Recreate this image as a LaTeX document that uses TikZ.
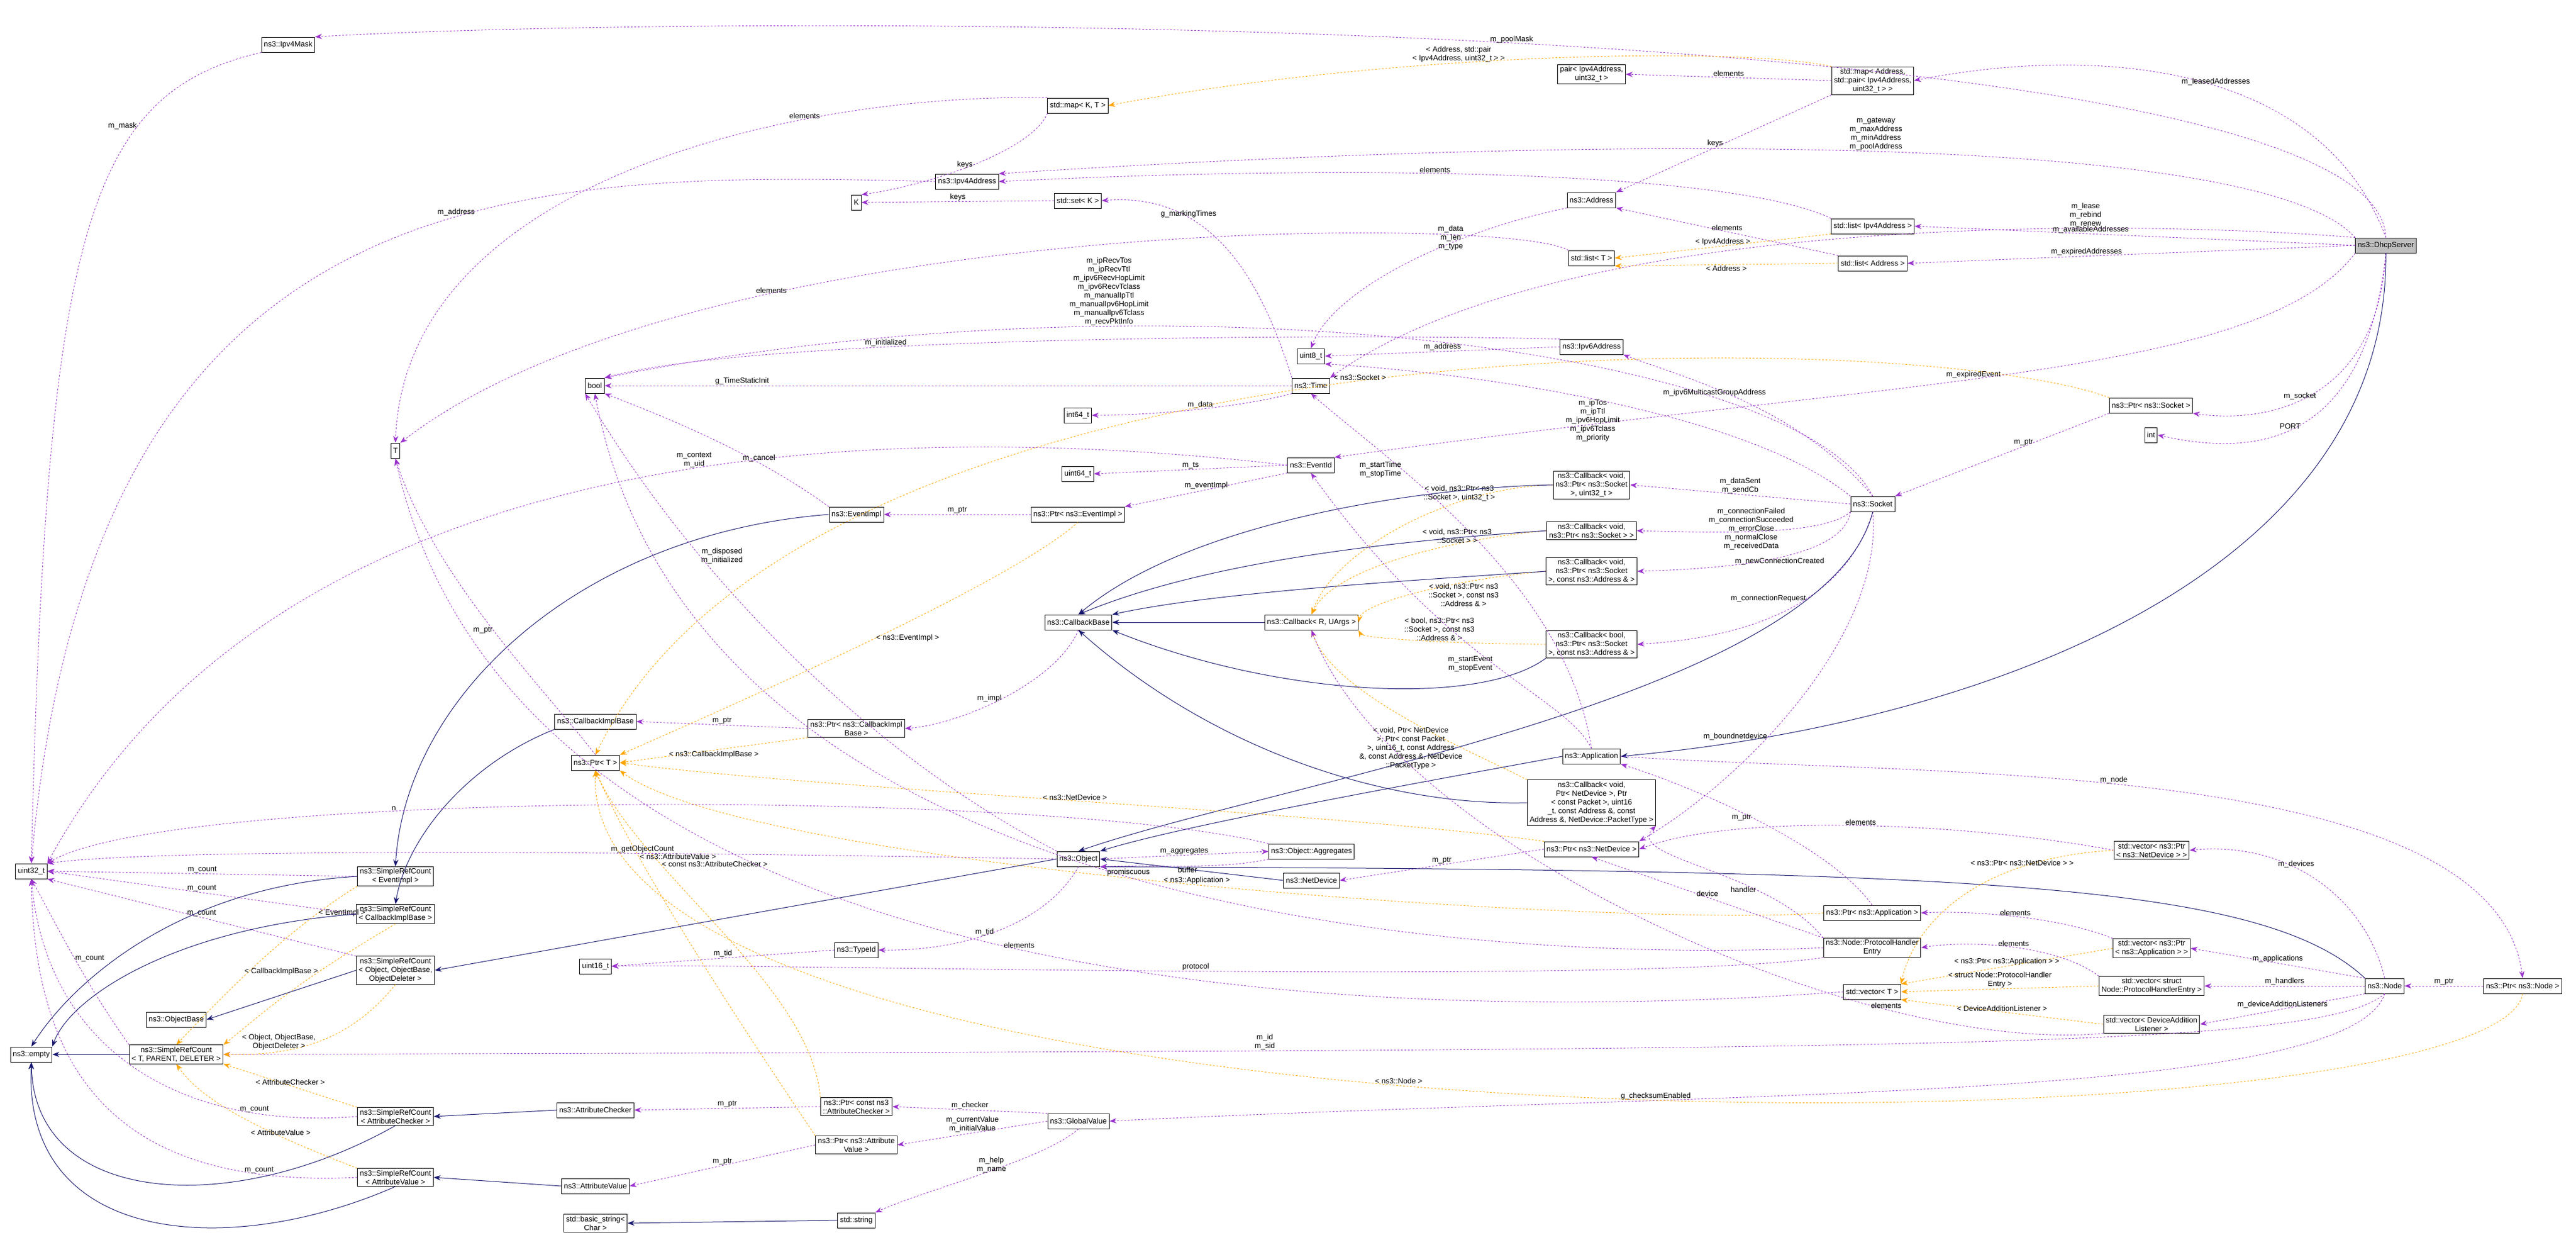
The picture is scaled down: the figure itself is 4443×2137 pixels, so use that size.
\documentclass[tikz,border=0pt]{standalone}
\usepackage{fontspec}
\setmainfont{Liberation Sans}
\usetikzlibrary{arrows.meta, positioning}
\definecolor{usecol}{HTML}{9A32CD}
\definecolor{tmplcol}{HTML}{FFA500}
\definecolor{inhcol}{HTML}{191970}

\begin{document}
\begin{tikzpicture}[
            x=1pt, y=-1pt,
            font=\fontsize{13}{15}\selectfont,
            cls/.style={rectangle, draw, fill=white, line width=1pt, inner xsep=4pt, inner ysep=3pt, minimum height=26pt, align=center},
            use/.style={draw=usecol, dashed, line width=0.9pt, -{Stealth[length=12pt, width=9pt]}},
            tmpl/.style={draw=tmplcol, dashed, line width=0.9pt, -{Stealth[length=12pt, width=9pt]}},
            inh/.style={draw=inhcol, line width=1pt, -{Stealth[length=12pt, width=9pt]}},
            lbl/.style={align=center, inner sep=1pt, font=\fontsize{13}{15}\selectfont}
        ]
        \useasboundingbox (0,0) rectangle (4443,2137);

        % main class and its direct members
        \node[cls, fill=black!25] (dhcp) at (4115,423) {ns3::DhcpServer};
        \node[cls] (ipmask) at (497,77) {ns3::Ipv4Mask};
        \node[cls] (maplease) at (3230,139) {std::map< Address,\\ std::pair< Ipv4Address,\\ uint32\_t > >};
        \node[cls] (pair) at (2745,128) {pair< Ipv4Address,\\ uint32\_t >};
        \node[cls] (mapkt) at (1859,182) {std::map< K, T >};
        \node[cls] (ipv4) at (1668,313) {ns3::Ipv4Address};
        \node[cls] (kk) at (1477,349) {K};
        \node[cls] (setk) at (1859,346) {std::set< K >};
        \node[cls] (addr) at (2745,345) {ns3::Address};
        \node[cls] (listip4) at (3230,390) {std::list< Ipv4Address >};
        \node[cls] (listaddr) at (3230,454) {std::list< Address >};
        \node[cls] (listt) at (2745,445) {std::list< T >};
        \node[cls] (u8) at (2261,614) {uint8\_t};
        \node[cls] (ipv6) at (2745,598) {ns3::Ipv6Address};
        \node[cls] (time) at (2261,665) {ns3::Time};
        \node[cls] (i64) at (1859,716) {int64\_t};
        \node[cls] (boolt) at (1026,665) {bool};
        \node[cls] (tt) at (682,777) {T};
        \node[cls] (psock) at (3710,699) {ns3::Ptr< ns3::Socket >};
        \node[cls] (intt) at (3710,750) {int};
        \node[cls] (evid) at (2261,802) {ns3::EventId};
        \node[cls] (u64) at (1859,817) {uint64\_t};
        \node[cls] (sock) at (3230,869) {ns3::Socket};
        \node[cls] (evimpl) at (1477,887) {ns3::EventImpl};
        \node[cls] (pevimpl) at (1859,887) {ns3::Ptr< ns3::EventImpl >};

        % callbacks
        \node[cls] (cbsu32) at (2745,836) {ns3::Callback< void,\\ ns3::Ptr< ns3::Socket\\ >, uint32\_t >};
        \node[cls] (cbs) at (2745,915) {ns3::Callback< void,\\ ns3::Ptr< ns3::Socket > >};
        \node[cls] (cbsaddr) at (2745,985) {ns3::Callback< void,\\ ns3::Ptr< ns3::Socket\\ >, const ns3::Address \& >};
        \node[cls] (cbbool) at (2745,1111) {ns3::Callback< bool,\\ ns3::Ptr< ns3::Socket\\ >, const ns3::Address \& >};
        \node[cls] (cbbase) at (1860,1073) {ns3::CallbackBase};
        \node[cls] (cbr) at (2262,1073) {ns3::Callback< R, UArgs >};
        \node[cls] (pcbimpl) at (1477,1256) {ns3::Ptr< ns3::CallbackImpl\\ Base >};
        \node[cls] (cbimpl) at (1027,1244) {ns3::CallbackImplBase};
        \node[cls] (ptrt) at (1027,1315) {ns3::Ptr< T >};
        \node[cls] (app) at (2745,1304) {ns3::Application};
        \node[cls] (cbnd) at (2745,1384) {ns3::Callback< void,\\ Ptr< NetDevice >, Ptr\\ < const Packet >, uint16\\ \_t, const Address \&, const\\ Address \&, NetDevice::PacketType >};
        \node[cls] (pnd) at (2745,1464) {ns3::Ptr< ns3::NetDevice >};

        % object model
        \node[cls] (object) at (1860,1481) {ns3::Object};
        \node[cls] (aggr) at (2262,1468) {ns3::Object::Aggregates};
        \node[cls] (netdev) at (2262,1518) {ns3::NetDevice};
        \node[cls] (typeid) at (1477,1638) {ns3::TypeId};
        \node[cls] (u16) at (1027,1666) {uint16\_t};
        \node[cls] (u32) at (54,1502) {uint32\_t};
        \node[cls] (srcev) at (682,1511) {ns3::SimpleRefCount\\ < EventImpl >};
        \node[cls] (srccb) at (682,1576) {ns3::SimpleRefCount\\ < CallbackImplBase >};
        \node[cls] (srcobj) at (682,1673) {ns3::SimpleRefCount\\ < Object, ObjectBase,\\ ObjectDeleter >};
        \node[cls] (objbase) at (304,1758) {ns3::ObjectBase};
        \node[cls] (empty) at (54,1818) {ns3::empty};
        \node[cls] (srct) at (304,1818) {ns3::SimpleRefCount\\ < T, PARENT, DELETER >};
        \node[cls] (srcchk) at (682,1925) {ns3::SimpleRefCount\\ < AttributeChecker >};
        \node[cls] (attrchk) at (1027,1914) {ns3::AttributeChecker};
        \node[cls] (srcval) at (682,2030) {ns3::SimpleRefCount\\ < AttributeValue >};
        \node[cls] (attrval) at (1027,2045) {ns3::AttributeValue};
        \node[cls] (bstr) at (1027,2109) {std::basic\_string<\\ Char >};
        \node[cls] (pchk) at (1477,1908) {ns3::Ptr< const ns3\\ ::AttributeChecker >};
        \node[cls] (pattr) at (1477,1974) {ns3::Ptr< ns3::Attribute\\ Value >};
        \node[cls] (gval) at (1860,1933) {ns3::GlobalValue};
        \node[cls] (str) at (1477,2104) {std::string};

        % node side
        \node[cls] (vnd) at (3711,1466) {std::vector< ns3::Ptr\\ < ns3::NetDevice > >};
        \node[cls] (papp) at (3229,1574) {ns3::Ptr< ns3::Application >};
        \node[cls] (phe) at (3229,1634) {ns3::Node::ProtocolHandler\\ Entry};
        \node[cls] (vapp) at (3711,1635) {std::vector< ns3::Ptr\\ < ns3::Application > >};
        \node[cls] (vect) at (3229,1710) {std::vector< T >};
        \node[cls] (vphe) at (3711,1700) {std::vector< struct\\ Node::ProtocolHandlerEntry >};
        \node[cls] (vdal) at (3711,1766) {std::vector< DeviceAddition\\ Listener >};
        \node[cls] (node) at (4113,1700) {ns3::Node};
        \node[cls] (pnode) at (4351,1700) {ns3::Ptr< ns3::Node >};

        % DhcpServer members
        \draw[use] (dhcp.north) .. controls (4100,20) and (1300,20) .. node[lbl, pos=0.5, above=-2pt] {m\_poolMask} (ipmask.north east);
        \draw[use] (dhcp.north) .. controls (4000,100) and (3600,80) .. node[lbl, pos=0.45, above] {m\_leasedAddresses} (maplease.east);
        \draw[use] (dhcp.north west) .. controls (3900,230) and (2800,230) .. node[lbl, pos=0.5, above] {m\_gateway\\m\_maxAddress\\m\_minAddress\\m\_poolAddress} (ipv4.north east);
        \draw[use] (dhcp.north west) .. controls (3700,380) and (2700,360) .. node[lbl, pos=0.3, above] {m\_lease\\m\_rebind\\m\_renew} (time.north east);
        \draw[use] (dhcp.west) -- node[lbl, above, pos=0.6] {m\_availableAddresses} (listip4.east);
        \draw[use] (dhcp.west) -- node[lbl, above, pos=0.6] {m\_expiredAddresses} (listaddr.east);
        \draw[use] (dhcp.south west) .. controls (3900,650) and (3300,650) .. node[lbl, pos=0.55, above] {m\_expiredEvent} (evid.north east);
        \draw[use] (dhcp.south) .. controls (4100,700) and (3900,730) .. node[lbl, pos=0.55, above] {m\_socket} (psock.south east);
        \draw[use] (dhcp.south) .. controls (4080,760) and (3900,790) .. node[lbl, pos=0.55, above] {PORT} (intt.east);
        \draw[inh] (dhcp.south) .. controls (4120,1000) and (3400,1250) .. (app.east);

        % address containers
        \draw[use] (ipmask.south west) .. controls (150,160) and (80,400) .. node[lbl, pos=0.3, left] {m\_mask} (u32.north);
        \draw[use] (ipv4.west) .. controls (900,295) and (160,290) .. node[lbl, pos=0.4, above] {m\_address} (u32.north);
        \draw[use] (mapkt.north west) .. controls (1400,160) and (700,300) .. node[lbl, pos=0.3, above] {elements} (tt.north);
        \draw[use] (mapkt.south west) .. controls (1780,260) and (1600,320) .. node[lbl, pos=0.5, left] {keys} (kk.north east);
        \draw[use] (setk.west) -- node[lbl, above] {keys} (kk.east);
        \draw[tmpl] (maplease.north west) .. controls (3000,80) and (2400,90) .. node[lbl, pos=0.6, above] {< Address, std::pair\\< Ipv4Address, uint32\_t > >} (mapkt.east);
        \draw[use] (maplease.west) -- node[lbl, above] {elements} (pair.east);
        \draw[use] (maplease.south west) -- node[lbl, pos=0.5, left] {keys} (addr.north east);
        \draw[use] (listip4.north west) .. controls (3000,300) and (2400,280) .. node[lbl, pos=0.6, above] {elements} (ipv4.east);
        \draw[use] (listaddr.north west) -- node[lbl, pos=0.5, above] {elements} (addr.south east);
        \draw[tmpl] (listip4.south west) -- node[lbl, pos=0.5, above] {< Ipv4Address >} (listt.east);
        \draw[tmpl] (listaddr.west) -- node[lbl, pos=0.5, below] {< Address >} (listt.south east);
        \draw[use] (listt.north west) .. controls (2600,370) and (1200,370) .. node[lbl, pos=0.7, above] {elements} (tt.north east);
        \draw[use] (addr.south west) .. controls (2500,400) and (2300,500) .. node[lbl, pos=0.3, left] {m\_data\\m\_len\\m\_type} (u8.north);
        \draw[use] (ipv6.west) -- node[lbl, above] {m\_address} (u8.east);
        \draw[use] (ipv6.north west) .. controls (2300,575) and (1300,580) .. node[lbl, pos=0.65, above] {m\_initialized} (boolt.north east);

        % time and events
        \draw[use] (time.west) -- node[lbl, above, pos=0.8] {g\_TimeStaticInit} (boolt.east);
        \draw[use] (time.south west) .. controls (2150,700) and (2000,716) .. node[lbl, above, pos=0.5] {m\_data} (i64.east);
        \draw[use] (time.north west) .. controls (2180,500) and (2100,330) .. node[lbl, above, pos=0.7] {g\_markingTimes} (setk.east);
        \draw[use] (evid.west) .. controls (1600,730) and (500,720) .. node[lbl, above, pos=0.45] {m\_context\\m\_uid} (u32.north east);
        \draw[use] (evid.west) -- node[lbl, above] {m\_ts} (u64.east);
        \draw[use] (evid.south west) -- node[lbl, above] {m\_eventImpl} (pevimpl.north east);
        \draw[use] (pevimpl.west) -- node[lbl, above] {m\_ptr} (evimpl.east);
        \draw[tmpl] (pevimpl.south) .. controls (1750,1000) and (1300,1200) .. node[lbl, pos=0.5, right] {< ns3::EventImpl >} (ptrt.north east);
        \draw[use] (evimpl.north west) .. controls (1300,780) and (1150,720) .. node[lbl, above, pos=0.3] {m\_cancel} (boolt.south east);
        \draw[inh] (evimpl.west) .. controls (1000,920) and (700,1200) .. (srcev.north);

        % socket
        \draw[use] (psock.south west) -- node[lbl, above, pos=0.4] {m\_ptr} (sock.north east);
        \draw[tmpl] (psock.north west) .. controls (3300,560) and (1400,530) .. node[lbl, above, pos=0.5] {< ns3::Socket >} (ptrt.north);
        \draw[use] (sock.north) .. controls (3100,600) and (2000,460) .. node[lbl, pos=0.7, above] {m\_ipRecvTos\\m\_ipRecvTtl\\m\_ipv6RecvHopLimit\\m\_ipv6RecvTclass\\m\_manualIpTtl\\m\_manualIpv6HopLimit\\m\_manualIpv6Tclass\\m\_recvPktInfo} (boolt.north east);
        \draw[use] (sock.north) .. controls (3100,700) and (2900,650) .. node[lbl, pos=0.6, below] {m\_ipv6MulticastGroupAddress} (ipv6.south east);
        \draw[use] (sock.north west) .. controls (3000,700) and (2500,640) .. node[lbl, pos=0.5, below] {m\_ipTos\\m\_ipTtl\\m\_ipv6HopLimit\\m\_ipv6Tclass\\m\_priority} (u8.south east);
        \draw[use] (sock.west) -- node[lbl, above] {m\_dataSent\\m\_sendCb} (cbsu32.east);
        \draw[use] (sock.south west) .. controls (3150,920) and (3000,920) .. node[lbl, pos=0.4, left] {m\_connectionFailed\\m\_connectionSucceeded\\m\_errorClose\\m\_normalClose\\m\_receivedData} (cbs.east);
        \draw[use] (sock.south west) .. controls (3180,960) and (3000,980) .. node[lbl, pos=0.5, below] {m\_newConnectionCreated} (cbsaddr.east);
        \draw[use] (sock.south) .. controls (3180,1050) and (3000,1100) .. node[lbl, pos=0.4, left] {m\_connectionRequest} (cbbool.east);
        \draw[use] (sock.south) .. controls (3250,1100) and (3000,1350) .. node[lbl, pos=0.6, left] {m\_boundnetdevice} (pnd.north east);
        \draw[inh] (sock.south) .. controls (3150,1200) and (2200,1350) .. (object.north);

        % callbacks
        \draw[tmpl] (cbsu32.west) .. controls (2500,840) and (2300,950) .. node[lbl, pos=0.3, above] {< void, ns3::Ptr< ns3\\::Socket >, uint32\_t >} (cbr.north);
        \draw[tmpl] (cbs.west) .. controls (2500,930) and (2300,980) .. node[lbl, pos=0.3, above] {< void, ns3::Ptr< ns3\\::Socket > >} (cbr.north);
        \draw[tmpl] (cbsaddr.west) .. controls (2500,1000) and (2350,1040) .. node[lbl, pos=0.3, below] {< void, ns3::Ptr< ns3\\::Socket >, const ns3\\::Address \& >} (cbr.east);
        \draw[tmpl] (cbbool.west) .. controls (2500,1110) and (2350,1100) .. node[lbl, pos=0.4, above] {< bool, ns3::Ptr< ns3\\::Socket >, const ns3\\::Address \& >} (cbr.south east);
        \draw[tmpl] (cbnd.north west) .. controls (2550,1300) and (2300,1200) .. node[lbl, pos=0.3, left] {< void, Ptr< NetDevice\\ >, Ptr< const Packet\\ >, uint16\_t, const Address\\ \&, const Address \&, NetDevice\\ ::PacketType >} (cbr.south);
        \draw[inh] (cbr.west) -- (cbbase.east);
        \draw[inh] (cbsu32.west) .. controls (2450,840) and (2050,900) .. (cbbase.north);
        \draw[inh] (cbs.west) .. controls (2450,930) and (2100,960) .. (cbbase.north);
        \draw[inh] (cbsaddr.west) .. controls (2450,1000) and (2100,1020) .. (cbbase.north east);
        \draw[inh] (cbbool.south west) .. controls (2550,1220) and (2200,1200) .. (cbbase.south east);
        \draw[inh] (cbnd.west) .. controls (2400,1390) and (2100,1300) .. (cbbase.south);
        \draw[use] (cbbase.south) .. controls (1820,1180) and (1650,1250) .. node[lbl, pos=0.5, left] {m\_impl} (pcbimpl.east);
        \draw[use] (pcbimpl.west) -- node[lbl, above] {m\_ptr} (cbimpl.east);
        \draw[tmpl] (pcbimpl.south west) -- node[lbl, below] {< ns3::CallbackImplBase >} (ptrt.east);
        \draw[inh] (cbimpl.south west) .. controls (800,1320) and (700,1450) .. (srccb.north);
        \draw[use] (ptrt.north) .. controls (950,1200) and (750,1000) .. node[lbl, pos=0.5, left] {m\_ptr} (tt.south);

        % application and devices
        \draw[use] (app.north) .. controls (2700,1200) and (2500,1150) .. node[lbl, pos=0.5, left] {m\_startEvent\\m\_stopEvent} (evid.south);
        \draw[use] (app.north) .. controls (2700,1000) and (2400,800) .. node[lbl, pos=0.7, left] {m\_startTime\\m\_stopTime} (time.south);
        \draw[use] (app.east) .. controls (3300,1340) and (4300,1300) .. node[lbl, pos=0.45, above] {m\_node} (pnode.north);
        \draw[inh] (app.west) .. controls (2500,1340) and (2050,1420) .. (object.north east);
        \draw[inh] (netdev.west) -- (object.east);
        \draw[use] (pnd.west) -- node[lbl, above] {m\_ptr} (netdev.east);
        \draw[tmpl] (pnd.north west) .. controls (2300,1400) and (1400,1360) .. node[lbl, pos=0.5, above] {< ns3::NetDevice >} (ptrt.east);
        \draw[use] (vnd.west) .. controls (3400,1420) and (3000,1400) .. node[lbl, pos=0.5, above] {elements} (pnd.east);
        \draw[tmpl] (vnd.west) .. controls (3400,1480) and (3300,1600) .. node[lbl, pos=0.25, above] {< ns3::Ptr< ns3::NetDevice > >} (vect.north east);
        \draw[use] (papp.north) .. controls (3150,1450) and (2900,1350) .. node[lbl, pos=0.5, left] {m\_ptr} (app.south east);
        \draw[tmpl] (papp.west) .. controls (2800,1600) and (1300,1500) .. node[lbl, pos=0.5, above] {< ns3::Application >} (ptrt.south east);
        \draw[use] (phe.north west) .. controls (3050,1500) and (2800,1480) .. node[lbl, pos=0.3, left] {handler} (cbnd.south east);
        \draw[use] (phe.north west) -- node[lbl, pos=0.5, above] {device} (pnd.south);
        \draw[use] (phe.west) .. controls (2600,1660) and (1200,1600) .. node[lbl, pos=0.5, above] {promiscuous} (boolt.south);
        \draw[use] (phe.south west) .. controls (2800,1700) and (1300,1660) .. node[lbl, pos=0.5, above] {protocol} (u16.east);
        \draw[use] (vapp.north west) .. controls (3550,1580) and (3400,1570) .. node[lbl, pos=0.5, above] {elements} (papp.east);
        \draw[tmpl] (vapp.west) -- node[lbl, pos=0.5, above] {< ns3::Ptr< ns3::Application > >} (vect.north east);
        \draw[use] (vphe.north west) .. controls (3550,1630) and (3400,1620) .. node[lbl, pos=0.5, above] {elements} (phe.east);
        \draw[tmpl] (vphe.west) -- node[lbl, pos=0.5, above] {< struct Node::ProtocolHandler\\Entry >} (vect.east);
        \draw[use] (vdal.south west) .. controls (3200,1820) and (2400,1450) .. node[lbl, pos=0.25, above] {elements} (cbr.south);
        \draw[tmpl] (vdal.west) -- node[lbl, pos=0.5, above] {< DeviceAdditionListener >} (vect.south east);
        \draw[use] (vect.west) .. controls (2500,1760) and (900,1770) .. node[lbl, pos=0.5, above] {elements} (tt.south);

        % node
        \draw[use] (node.north) .. controls (4080,1550) and (3950,1450) .. node[lbl, pos=0.6, above] {m\_devices} (vnd.east);
        \draw[use] (node.north west) -- node[lbl, above] {m\_applications} (vapp.east);
        \draw[use] (node.west) -- node[lbl, above] {m\_handlers} (vphe.east);
        \draw[use] (node.south west) -- node[lbl, above] {m\_deviceAdditionListeners} (vdal.east);
        \draw[use] (node.south) .. controls (4000,1810) and (3300,1810) .. node[lbl, pos=0.75, above] {m\_id\\m\_sid} (srct.east);
        \draw[use] (node.south) .. controls (4050,1900) and (3000,1880) .. node[lbl, pos=0.7, above] {g\_checksumEnabled} (gval.east);
        \draw[inh] (node.north west) .. controls (3900,1520) and (3400,1500) .. (object.south east);
        \draw[use] (pnode.west) -- node[lbl, above] {m\_ptr} (node.east);
        \draw[tmpl] (pnode.south) .. controls (4300,2000) and (1000,2020) .. node[lbl, pos=0.55, above] {< ns3::Node >} (ptrt.south);

        % object
        \draw[use] (object.north west) .. controls (1500,1300) and (1200,1000) .. node[lbl, pos=0.7, right] {m\_disposed\\m\_initialized} (boolt.south west);
        \draw[use] (object.west) .. controls (1200,1470) and (300,1460) .. node[lbl, pos=0.35, above] {m\_getObjectCount} (u32.north east);
        \draw[use] (object.east) -- node[lbl, above] {m\_aggregates} (aggr.west);
        \draw[use] (aggr.south west) .. controls (2100,1500) and (2000,1490) .. node[lbl, pos=0.5, below] {buffer} (object.south east);
        \draw[use] (aggr.north west) .. controls (1800,1360) and (300,1360) .. node[lbl, pos=0.65, above] {n} (u32.north east);
        \draw[use] (object.south) .. controls (1800,1600) and (1650,1640) .. node[lbl, pos=0.5, left] {m\_tid} (typeid.east);
        \draw[use] (typeid.west) -- node[lbl, above] {m\_tid} (u16.east);
        \draw[inh] (object.west) -- (srcobj.east);

        % refcount family
        \draw[use] (srcev.west) -- node[lbl, above] {m\_count} (u32.east);
        \draw[use] (srccb.west) -- node[lbl, above] {m\_count} (u32.east);
        \draw[use] (srcobj.north west) -- node[lbl, above] {m\_count} (u32.south east);
        \draw[use] (srct.north west) .. controls (150,1700) and (100,1600) .. node[lbl, pos=0.5, right] {m\_count} (u32.south);
        \draw[use] (srcchk.west) .. controls (300,1950) and (80,1800) .. node[lbl, pos=0.2, above] {m\_count} (u32.south);
        \draw[use] (srcval.west) .. controls (200,2050) and (60,1850) .. node[lbl, pos=0.15, above] {m\_count} (u32.south);
        \draw[tmpl] (srcev.south west) .. controls (500,1600) and (400,1700) .. node[lbl, pos=0.2, right] {< EventImpl >} (srct.north);
        \draw[tmpl] (srccb.south) .. controls (500,1700) and (450,1750) .. node[lbl, pos=0.3, left] {< CallbackImplBase >} (srct.north east);
        \draw[tmpl] (srcobj.south) .. controls (600,1800) and (500,1820) .. node[lbl, pos=0.5, left] {< Object, ObjectBase,\\ObjectDeleter >} (srct.east);
        \draw[tmpl] (srcchk.north west) -- node[lbl, pos=0.5, above] {< AttributeChecker >} (srct.south east);
        \draw[tmpl] (srcval.north west) .. controls (450,1950) and (350,1900) .. node[lbl, pos=0.3, above] {< AttributeValue >} (srct.south);
        \draw[inh] (srct.west) -- (empty.east);
        \draw[inh] (srcobj.west) -- (objbase.east);
        \draw[inh] (srcev.west) .. controls (300,1530) and (120,1700) .. (empty.north);
        \draw[inh] (srccb.west) .. controls (300,1600) and (120,1720) .. (empty.north east);
        \draw[inh] (srcchk.south) .. controls (400,2100) and (60,2080) .. (empty.south);
        \draw[inh] (srcval.south) .. controls (400,2170) and (40,2150) .. (empty.south);
        \draw[inh] (attrchk.west) -- (srcchk.east);
        \draw[inh] (attrval.west) -- (srcval.east);

        % attributes
        \draw[use] (pchk.west) -- node[lbl, above] {m\_ptr} (attrchk.east);
        \draw[use] (pattr.west) -- node[lbl, above] {m\_ptr} (attrval.east);
        \draw[tmpl] (pchk.north west) .. controls (1400,1700) and (1100,1500) .. node[lbl, pos=0.7, right] {< const ns3::AttributeChecker >} (ptrt.south);
        \draw[tmpl] (pattr.north west) .. controls (1300,1800) and (1100,1500) .. node[lbl, pos=0.75, right] {< ns3::AttributeValue >} (ptrt.south);
        \draw[use] (gval.north west) -- node[lbl, above] {m\_checker} (pchk.east);
        \draw[use] (gval.west) -- node[lbl, above] {m\_currentValue\\m\_initialValue} (pattr.east);
        \draw[use] (gval.south) .. controls (1800,2000) and (1600,2050) .. node[lbl, pos=0.4, left] {m\_help\\m\_name} (str.north east);
        \draw[inh] (str.west) -- (bstr.east);
    \end{tikzpicture}
\end{document}
